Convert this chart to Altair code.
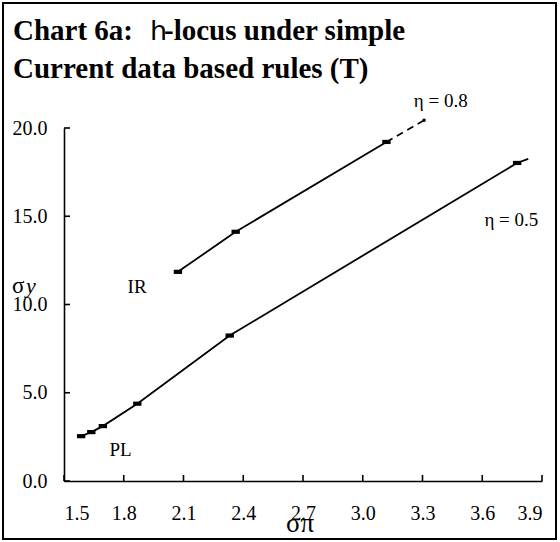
import altair as alt
import pandas as pd

# eta = 0.5 locus (last point is the unmarked end of the curve)
eta05_x = [1.586, 1.637, 1.695, 1.868, 2.332, 3.775, 3.831]
eta05_y = [2.54, 2.77, 3.11, 4.38, 8.24, 18.02, 18.25]
eta05_mark = [True, True, True, True, True, True, False]

# eta = 0.8 locus, solid part
eta08_x = [2.072, 2.362, 3.119]
eta08_y = [11.85, 14.12, 19.21]

# eta = 0.8 locus, dashed extension
eta08_ext_x = [3.119, 3.308]
eta08_ext_y = [19.21, 20.44]

x_ticks = [1.5, 1.8, 2.1, 2.4, 2.7, 3.0, 3.3, 3.6, 3.9]
y_ticks = [0.0, 5.0, 10.0, 15.0, 20.0]

# in-plot annotations (data coordinates)
ann_x = [3.392, 3.746, 1.867, 1.784]
ann_y = [21.55, 14.81, 11.0, 1.73]
ann_text = ["η = 0.8", "η = 0.5", "IR", "PL"]

W, H = 478, 353
SERIF = "Liberation Serif"

lower = pd.DataFrame({"x": eta05_x, "y": eta05_y, "m": eta05_mark, "s": "0.5"})
upper = pd.DataFrame({"x": eta08_x, "y": eta08_y, "m": [True] * len(eta08_x), "s": "0.8"})
ext = pd.DataFrame({"x": eta08_ext_x, "y": eta08_ext_y})
lines_df = pd.concat([lower, upper], ignore_index=True)
marks_df = lines_df[lines_df["m"]]

x_scale = alt.Scale(domain=[1.5, 3.9], nice=False, zero=False)
y_scale = alt.Scale(domain=[0, 20], nice=False, zero=False)

x_axis = alt.Axis(values=x_ticks, format=".1f", title=None, ticks=False, grid=False,
                  labelPadding=22, labelFont=SERIF, labelFontSize=20, labelColor="black",
                  domainColor="black", domainWidth=1.6)
y_axis = alt.Axis(values=y_ticks, format=".1f", title=None, ticks=False, grid=False,
                  labelPadding=17, labelFont=SERIF, labelFontSize=20, labelColor="black",
                  domainColor="black", domainWidth=1.6)

X = alt.X("x:Q", scale=x_scale, axis=x_axis)
Y = alt.Y("y:Q", scale=y_scale, axis=y_axis)

frame = alt.Chart(pd.DataFrame({"k": [0]})).mark_rect(
    fill=None, stroke="black", strokeWidth=2
).encode(x=alt.value(-61), x2=alt.value(492), y=alt.value(-125), y2=alt.value(411))

curves = alt.Chart(lines_df).mark_line(
    color="black", strokeWidth=1.8
).encode(x=X, y=Y, detail="s:N")

dashed = alt.Chart(ext).mark_line(
    color="black", strokeWidth=1.6, strokeDash=[7, 5]
).encode(x="x:Q", y="y:Q")

end_dot = alt.Chart(ext.tail(1)).mark_point(
    shape="square", filled=True, color="black", size=9, opacity=1
).encode(x="x:Q", y="y:Q")

markers = alt.Chart(marks_df).mark_point(
    shape="M-1,-0.5L1,-0.5L1,0.5L-1,0.5Z", filled=True, color="black", size=70, opacity=1
).encode(x="x:Q", y="y:Q")

xt = alt.Chart(pd.DataFrame({"x": x_ticks})).mark_rule(color="black", strokeWidth=1.6).encode(
    x="x:Q", y=alt.value(H), y2=alt.value(H - 6))
yt = alt.Chart(pd.DataFrame({"y": y_ticks})).mark_rule(color="black", strokeWidth=1.6).encode(
    y="y:Q", x=alt.value(0), x2=alt.value(6))

ann = alt.Chart(pd.DataFrame({"x": ann_x, "y": ann_y, "t": ann_text})).mark_text(
    font=SERIF, fontSize=19, color="black", align="center", baseline="middle"
).encode(x="x:Q", y="y:Q", text="t:N")


def label(text, x, y, size, weight="normal", font=SERIF, style="normal", align="left"):
    return alt.Chart(pd.DataFrame({"t": [text]})).mark_text(
        font=font, fontSize=size, fontWeight=weight, fontStyle=style, color="black",
        align=align, baseline="alphabetic"
    ).encode(x=alt.value(x), y=alt.value(y), text="t:N")


title_1a = label("Chart 6a:", -51, -88, 29, "bold")
title_1b = label("h", 86, -88, 27, "normal", font="DejaVu Sans")
title_1c = label("-locus under simple", 100, -88, 29, "bold")
title_2 = label("Current data based rules (T)", -51, -50, 29, "bold")
y_title_a = label("σ", -52, 165, 23)
y_title_b = label("y", -38, 165, 22, style="italic")
x_title = label("σπ", 236, 404, 27, align="center")

chart = alt.layer(
    frame, curves, dashed, end_dot, markers, xt, yt, ann,
    title_1a, title_1b, title_1c, title_2, y_title_a, y_title_b, x_title
).properties(
    width=W, height=H,
    padding={"left": 64, "top": 128, "right": 18, "bottom": 61},
    autosize=alt.AutoSizeParams(type="none"),
    background="white",
).configure_view(stroke=None)

chart.save("out.html", embed_options={"renderer": "svg", "actions": False})
